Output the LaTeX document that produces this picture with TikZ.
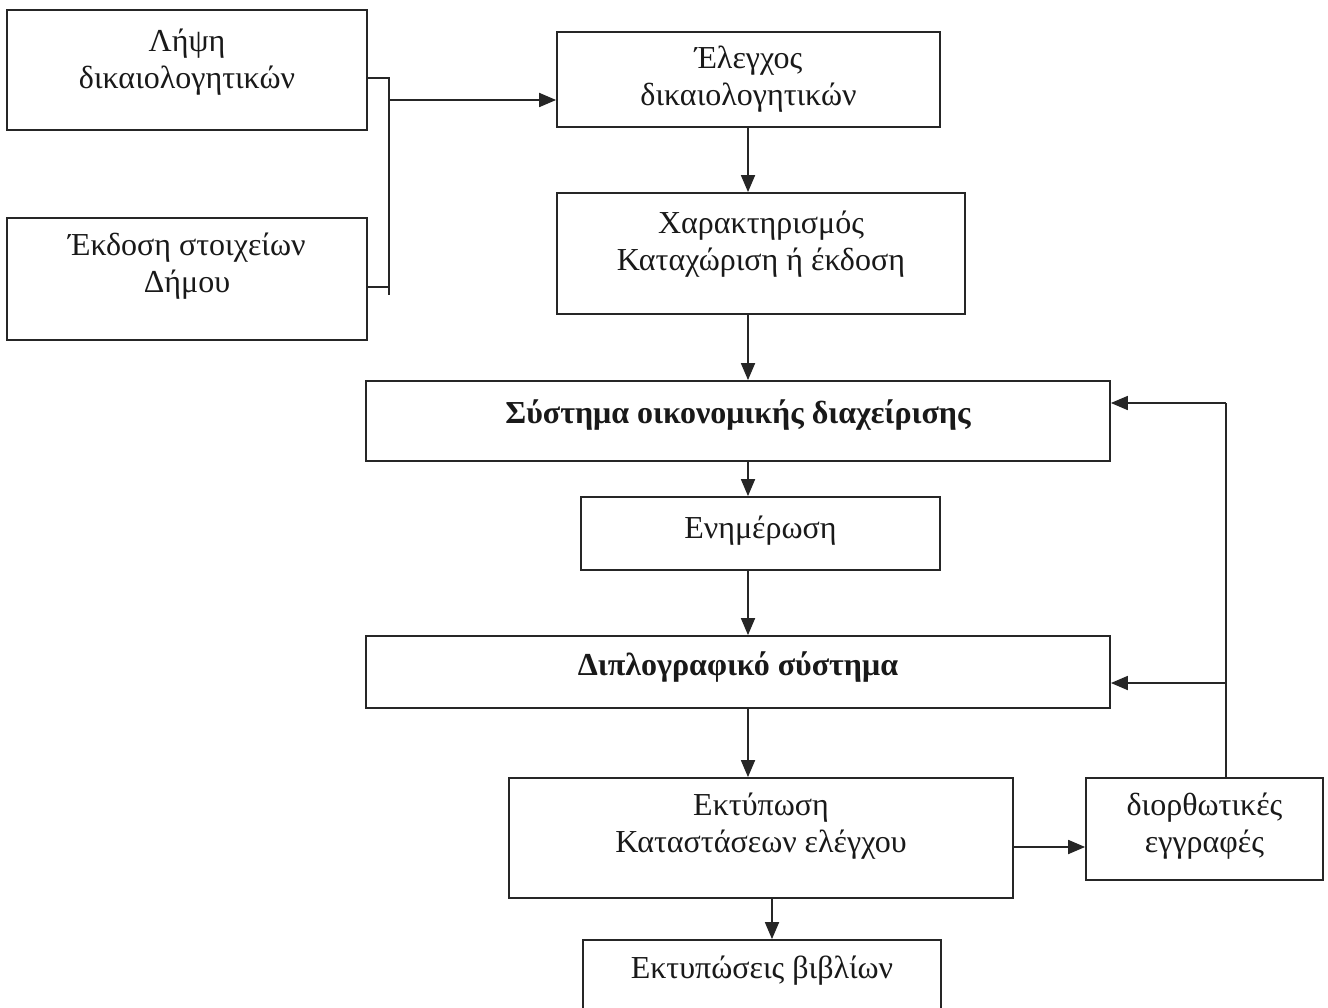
\documentclass[tikz,border=0pt]{standalone}
\usepackage{fontspec}
\setmainfont{Liberation Serif}
\usetikzlibrary{arrows.meta}
\begin{document}
\begin{tikzpicture}[x=1pt,y=-1pt,
  box/.style={draw=black!85, line width=1.8pt, rectangle, inner sep=0pt},
  txt/.style={font=\fontsize{32}{37}\selectfont, align=center, text=black!90},
  btxt/.style={font=\fontsize{32}{37}\selectfont\bfseries, align=center, text=black!90},
  arr/.style={draw=black!85, line width=1.8pt, -{Triangle[length=17pt,width=14pt]}},
  ln/.style={draw=black!85, line width=1.8pt}]
\useasboundingbox[fill=white] (0,0) rectangle (1328,1008);

\node[box, minimum width=360pt, minimum height=120pt,
  label={[txt, yshift=8pt]center:{Λήψη\\δικαιολογητικών}}] (A) at (187,70) {};
\node[box, minimum width=360pt, minimum height=122pt,
  label={[txt, yshift=13pt]center:{Έκδοση στοιχείων\\Δήμου}}] (B) at (187,279) {};
\node[box, minimum width=383pt, minimum height=95pt,
  label={[txt, yshift=0pt]center:{Έλεγχος\\δικαιολογητικών}}] (C) at (748.5,79.5) {};
\node[box, minimum width=408pt, minimum height=121pt,
  label={[txt, yshift=9pt]center:{Χαρακτηρισμός\\Καταχώριση ή έκδοση}}] (D) at (761,253.5) {};
\node[box, minimum width=744pt, minimum height=80pt,
  label={[btxt, yshift=6pt]center:{Σύστημα οικονομικής διαχείρισης}}] (E) at (738,421) {};
\node[box, minimum width=359pt, minimum height=73pt,
  label={[txt, yshift=3pt]center:{Ενημέρωση}}] (F) at (760.5,533.5) {};
\node[box, minimum width=744pt, minimum height=72pt,
  label={[btxt, yshift=5pt]center:{Διπλογραφικό σύστημα}}] (G) at (738,672) {};
\node[box, minimum width=504pt, minimum height=120pt,
  label={[txt, yshift=12pt]center:{Εκτύπωση\\Καταστάσεων ελέγχου}}] (H) at (761,838) {};
\node[box, minimum width=237pt, minimum height=102pt,
  label={[txt, yshift=3pt]center:{διορθωτικές\\εγγραφές}}] (I) at (1204.5,829) {};
\node[box, minimum width=358pt, minimum height=100pt,
  label={[txt, yshift=19pt]center:{Εκτυπώσεις βιβλίων}}] (J) at (762,990) {};

% bracket joining A and B
\coordinate (ja) at (389,78);
\coordinate (jb) at (389,287);
\coordinate (jend) at (389,295);
\coordinate (jm) at (389,100);
\draw[ln] (ja -| A.east) -- (ja) -- (jend);
\draw[ln] (jb -| B.east) -- (jb);
\draw[arr] (jm) -- (jm -| C.west);

% main vertical flow
\coordinate (vx) at (748,0);
\draw[arr] (vx |- C.south) -- (vx |- D.north);
\draw[arr] (vx |- D.south) -- (vx |- E.north);
\draw[arr] (vx |- E.south) -- (vx |- F.north);
\draw[arr] (vx |- F.south) -- (vx |- G.north);
\draw[arr] (vx |- G.south) -- (vx |- H.north);
\coordinate (vx2) at (772,0);
\draw[arr] (vx2 |- H.south) -- (vx2 |- J.north);

% to corrections
\coordinate (hy) at (0,847);
\draw[arr] (hy -| H.east) -- (hy -| I.west);

% feedback
\coordinate (fx) at (1226,0);
\coordinate (fe) at (1226,403);
\coordinate (fg) at (1226,683);
\draw[ln] (fx |- I.north) -- (fe);
\draw[arr] (fe) -- (fe -| E.east);
\draw[arr] (fg) -- (fg -| G.east);
\end{tikzpicture}
\end{document}
